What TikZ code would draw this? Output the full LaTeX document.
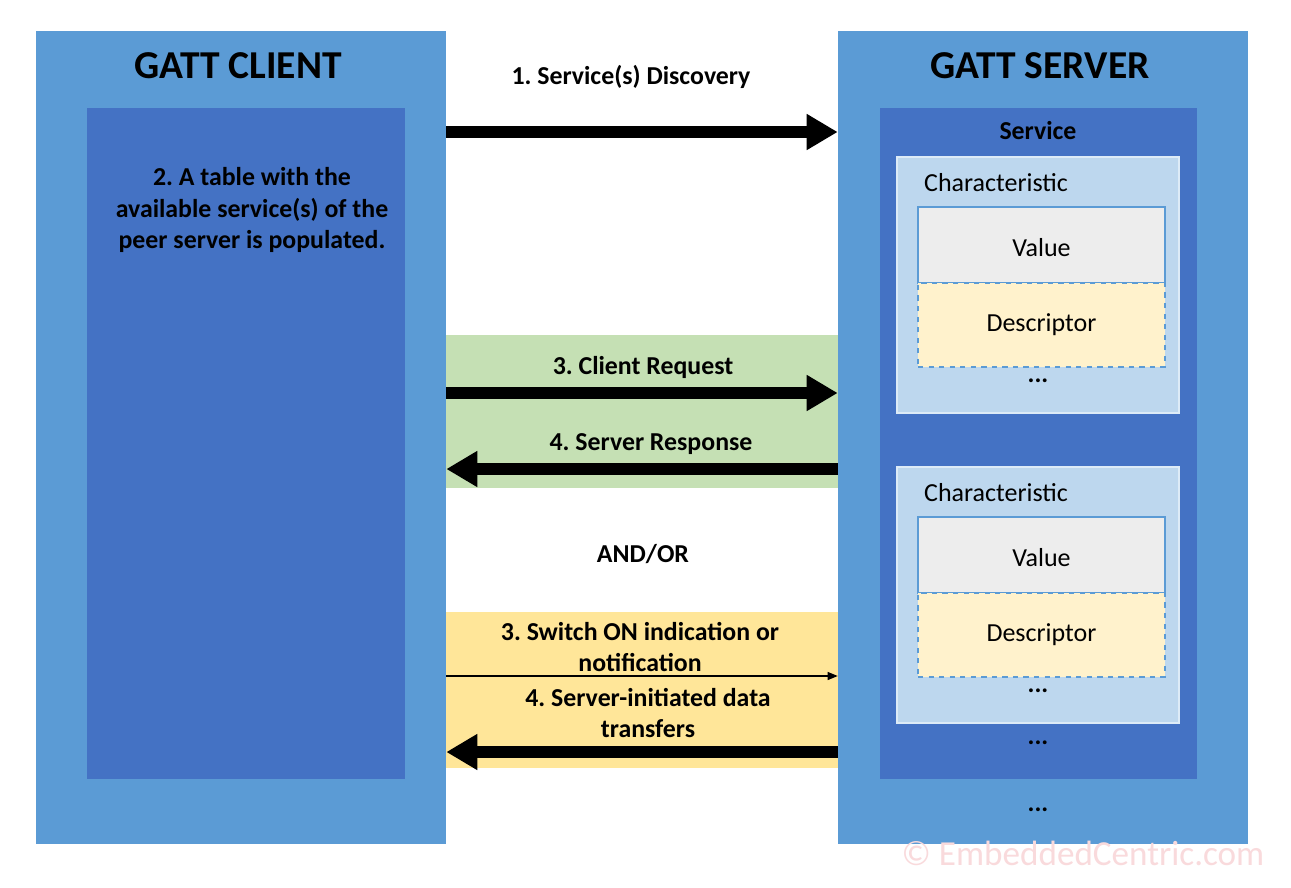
\documentclass[tikz,border=0pt]{standalone}
\usepackage{fontspec}
\setmainfont{Carlito}
\frenchspacing
\usetikzlibrary{arrows.meta,positioning}

\definecolor{outerblue}{HTML}{5B9BD5}
\definecolor{innerblue}{HTML}{4472C4}
\definecolor{charblue}{HTML}{BDD7EE}
\definecolor{charedge}{HTML}{DDEBF7}
\definecolor{valgray}{HTML}{EDEDED}
\definecolor{descyellow}{HTML}{FFF2CC}
\definecolor{bandgreen}{HTML}{C5E0B4}
\definecolor{bandyellow}{HTML}{FFE699}
\definecolor{markpink}{HTML}{F9DADC}

\tikzset{
    box/.style={rectangle, inner sep=0pt},
    outerbox/.style={box, fill=outerblue, minimum width=8.2cm, minimum height=16.26cm},
    innerbox/.style={box, fill=innerblue, minimum width=6.36cm, minimum height=13.42cm},
    charbox/.style={box, fill=charblue, draw=charedge, line width=1.2pt, minimum width=5.64cm, minimum height=5.12cm},
    valbox/.style={box, fill=valgray, draw=outerblue, line width=0.9pt, minimum width=4.94cm, minimum height=1.52cm, text height=13.5pt, text depth=0pt, font=\fontsize{14.8}{17}\selectfont},
    descbox/.style={box, fill=descyellow, draw=outerblue, dashed, line width=0.9pt, minimum width=4.94cm, minimum height=1.68cm, font=\fontsize{14.8}{17}\selectfont},
    band/.style={box, minimum width=7.84cm},
    title/.style={font=\bfseries\fontsize{22.5}{26}\selectfont},
    lbl/.style={font=\bfseries\fontsize{14.7}{17.9}\selectfont, align=center},
    plain/.style={font=\fontsize{14.8}{17}\selectfont},
    dots/.style={font=\bfseries\fontsize{14.7}{17}\selectfont},
    bigarrow/.style={line width=0.24cm, -{Triangle[length=0.62cm,width=0.68cm]}},
    thinarrow/.style={line width=0.6pt, -{Triangle[length=0.2cm,width=0.16cm]}}
}

\begin{document}
\begin{tikzpicture}[x=0.02cm, y=-0.02cm]
    \useasboundingbox[fill=white] (0,0) rectangle (1291,887);

    % client side
    \node[outerbox] (client) at (241,437.5) {};
    \node[innerbox] (clientin) at (246,443.5) {};
    \node[title] (clienttitle) at (238,66) {GATT CLIENT};
    \node[lbl] (table) at (252,210) {2. A table with the\\available service(s) of the\\peer server is populated.};

    % server side
    \node[outerbox] (server) at (1043,437.5) {};
    \node[innerbox] (servin) at (1038.5,443.5) {};
    \node[title] (servertitle) at (1040,66) {GATT SERVER};
    \node[lbl] (service) at (1038,131) {Service};

    \foreach \i/\y in {1/0, 2/310} {
        \node[charbox] (char\i) at (1038,285+\y) {};
        \node[plain, anchor=west] (charlbl\i) at (918,183+\y) {Characteristic};
        \node[valbox] (val\i) at (1041.5,245+\y) {Value};
        \node[descbox] (desc\i) at (1041.5,325+\y) {Descriptor};
        \node[dots] (chardots\i) at (1038,381+\y) {...};
    }
    \node[dots] (servdots) at (1038,743) {...};
    \node[dots] (moredots) at (1038,810) {...};

    % bands between the two
    \node[band, fill=bandgreen, minimum height=3.06cm] (green) at (642,411.5) {};
    \node[band, fill=bandyellow, minimum height=3.12cm] (yellow) at (642,690) {};

    % messages
    \node[lbl] (disc) at (631,77) {1. Service(s) Discovery};
    \node[lbl] (req) at (643,367) {3. Client Request};
    \node[lbl] (resp) at (651,444) {4. Server Response};
    \node[lbl] (andor) at (643,554) {AND/OR};
    \node[lbl] (notify) at (640,647) {3. Switch ON indication or\\notification};
    \node[lbl] (push) at (648,713) {4. Server-initiated data\\transfers};

    \coordinate (discy) at (0,132);
    \coordinate (reqy) at (0,393);
    \coordinate (respy) at (0,469);
    \coordinate (notifyy) at (0,676);
    \coordinate (pushy) at (0,752);

    \draw[bigarrow] (client.east |- discy) -- (server.west |- discy);
    \draw[bigarrow] (client.east |- reqy) -- (server.west |- reqy);
    \draw[bigarrow] (server.west |- respy) -- (client.east |- respy);
    \draw[thinarrow] (client.east |- notifyy) -- (server.west |- notifyy);
    \draw[bigarrow] (server.west |- pushy) -- (client.east |- pushy);

    \node[font=\fontsize{20}{22}\selectfont, text=markpink] (mark) at (1083,853) {© EmbeddedCentric.com};
\end{tikzpicture}
\end{document}
